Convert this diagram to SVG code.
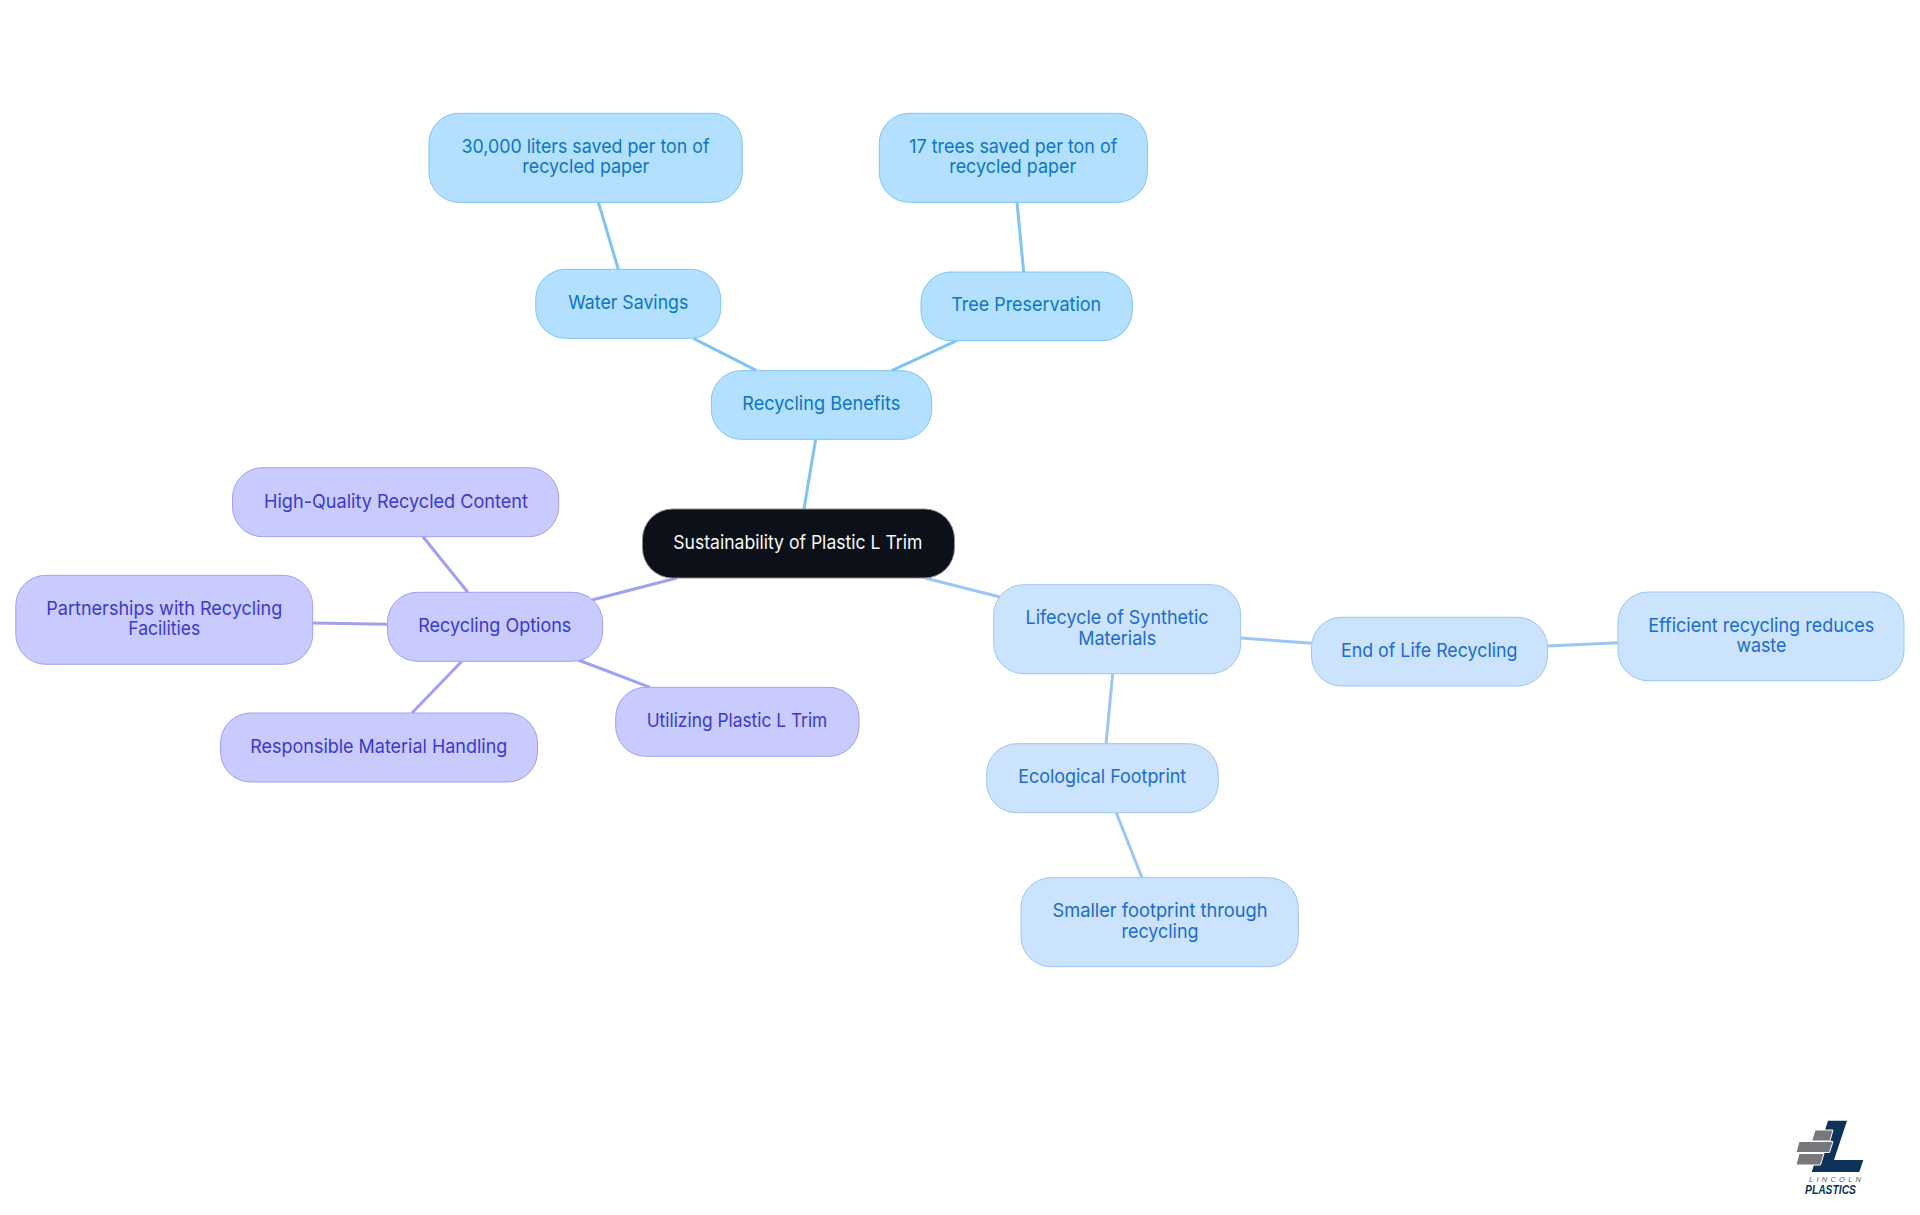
<svg xmlns="http://www.w3.org/2000/svg" width="1920" height="1215" viewBox="0 0 1920 1215">
<style>
text{font-family:"Inter","Noto Sans","Liberation Sans",sans-serif;font-size:19px;font-weight:400;text-anchor:middle}
rect{stroke-width:1}
.c line{stroke-width:3;fill:none}
.root rect{fill:#0b1019;stroke:#8a8d91}.root text{fill:#f7f8f8}
.a rect{fill:#b3e0ff;stroke:#7fc4f5}.a text{fill:#0b76c5}
.b rect{fill:#cce3fd;stroke:#9cc6f5}.b text{fill:#1b6bd0}
.p rect{fill:#c9cafd;stroke:#9ea1f3}.p text{fill:#3a3acb}
.la{stroke:#7fc4f5}.lb{stroke:#9cc6f5}.lp{stroke:#9ea1f3}
</style>
<rect width="1920" height="1215" fill="#fff" style="stroke:none"/>
<g id="connectors" class="c">
<line class="la" x1="804" y1="509" x2="815.7" y2="439"/>
<line class="la" x1="756.7" y1="370.7" x2="693.3" y2="338.3"/>
<line class="la" x1="891.7" y1="370.7" x2="956.7" y2="340.7"/>
<line class="la" x1="598.3" y1="202" x2="618.3" y2="269.3"/>
<line class="la" x1="1017" y1="202" x2="1023.7" y2="272"/>
<line class="lb" x1="925" y1="578" x2="1000" y2="597"/>
<line class="lb" x1="1240.7" y1="638" x2="1311.7" y2="643.3"/>
<line class="lb" x1="1547.5" y1="646" x2="1618" y2="642.7"/>
<line class="lb" x1="1112.7" y1="673.7" x2="1106" y2="743.7"/>
<line class="lb" x1="1116.3" y1="812.7" x2="1142" y2="877.7"/>
<line class="lp" x1="676.7" y1="578" x2="592" y2="600"/>
<line class="lp" x1="467.8" y1="592.3" x2="423" y2="536.7"/>
<line class="lp" x1="387.5" y1="624.3" x2="312.7" y2="623"/>
<line class="lp" x1="461.8" y1="661.3" x2="412" y2="713"/>
<line class="lp" x1="578.3" y1="660" x2="650" y2="687.3"/>
</g>
<g id="root" class="root"><rect x="642.5" y="509" width="312" height="69" rx="30"/><text x="797.8" y="549" textLength="249" lengthAdjust="spacingAndGlyphs">Sustainability of Plastic L Trim</text></g>
<g id="recycling-benefits" class="a"><rect x="711.3" y="370.7" width="220.4" height="68.6" rx="30"/><text x="821.3" y="410" textLength="158" lengthAdjust="spacingAndGlyphs">Recycling Benefits</text></g>
<g id="water-savings" class="a"><rect x="535.7" y="269.3" width="185" height="69" rx="30"/><text x="628.3" y="309" textLength="120" lengthAdjust="spacingAndGlyphs">Water Savings</text></g>
<g id="tree-preservation" class="a"><rect x="921" y="272" width="211.3" height="68.7" rx="30"/><text x="1026.2" y="310.7" textLength="150" lengthAdjust="spacingAndGlyphs">Tree Preservation</text></g>
<g id="liters-saved" class="a"><rect x="429" y="113.3" width="313.3" height="89" rx="30"/><text x="585.5" y="152.7" textLength="248" lengthAdjust="spacingAndGlyphs">30,000 liters saved per ton of</text><text x="585.8" y="172.7" textLength="127" lengthAdjust="spacingAndGlyphs">recycled paper</text></g>
<g id="trees-saved" class="a"><rect x="879.3" y="113.3" width="268" height="89" rx="30"/><text x="1013.3" y="152.7" textLength="208" lengthAdjust="spacingAndGlyphs">17 trees saved per ton of</text><text x="1012.7" y="172.7" textLength="127" lengthAdjust="spacingAndGlyphs">recycled paper</text></g>
<g id="lifecycle" class="b"><rect x="993.7" y="584.7" width="247" height="89" rx="30"/><text x="1117" y="624" textLength="183" lengthAdjust="spacingAndGlyphs">Lifecycle of Synthetic</text><text x="1117.2" y="644.5" textLength="78" lengthAdjust="spacingAndGlyphs">Materials</text></g>
<g id="end-of-life" class="b"><rect x="1311.5" y="617.3" width="236" height="68.7" rx="30"/><text x="1429.2" y="657" textLength="176.5" lengthAdjust="spacingAndGlyphs">End of Life Recycling</text></g>
<g id="efficient" class="b"><rect x="1618" y="592" width="286" height="88.7" rx="30"/><text x="1761.2" y="632" textLength="226" lengthAdjust="spacingAndGlyphs">Efficient recycling reduces</text><text x="1761.4" y="652" textLength="50" lengthAdjust="spacingAndGlyphs">waste</text></g>
<g id="ecological" class="b"><rect x="986.7" y="743.7" width="231.6" height="69" rx="30"/><text x="1102.2" y="783.3" textLength="168" lengthAdjust="spacingAndGlyphs">Ecological Footprint</text></g>
<g id="smaller" class="b"><rect x="1021" y="877.7" width="277.3" height="89" rx="30"/><text x="1160" y="916.7" textLength="215" lengthAdjust="spacingAndGlyphs">Smaller footprint through</text><text x="1160" y="937.5" textLength="77" lengthAdjust="spacingAndGlyphs">recycling</text></g>
<g id="recycling-options" class="p"><rect x="387.5" y="592.3" width="215.1" height="69" rx="30"/><text x="494.8" y="632.3" textLength="153" lengthAdjust="spacingAndGlyphs">Recycling Options</text></g>
<g id="high-quality" class="p"><rect x="232.5" y="467.7" width="326.2" height="69" rx="30"/><text x="396" y="508.3" textLength="264" lengthAdjust="spacingAndGlyphs">High-Quality Recycled Content</text></g>
<g id="partnerships" class="p"><rect x="15.8" y="575.3" width="296.9" height="89" rx="30"/><text x="164.3" y="615.3" textLength="236" lengthAdjust="spacingAndGlyphs">Partnerships with Recycling</text><text x="164.3" y="635.3" textLength="72" lengthAdjust="spacingAndGlyphs">Facilities</text></g>
<g id="responsible" class="p"><rect x="220.6" y="713" width="316.9" height="69" rx="30"/><text x="378.8" y="753.3" textLength="257" lengthAdjust="spacingAndGlyphs">Responsible Material Handling</text></g>
<g id="utilizing" class="p"><rect x="615.7" y="687.3" width="243.3" height="69" rx="30"/><text x="737" y="727.3" textLength="180.6" lengthAdjust="spacingAndGlyphs">Utilizing Plastic L Trim</text></g>
<g id="logo">
<polygon points="1828,1120.7 1847,1120.7 1834,1160 1863.3,1160 1859.3,1172 1811.7,1172" fill="#0f3358"/>
<g fill="#77787b" stroke="#fff" stroke-width="1">
<polygon points="1815,1130 1833,1130 1830,1141 1811.7,1141"/>
<polygon points="1799,1141.5 1833,1141.5 1829.5,1152.5 1796,1152.5"/>
<polygon points="1799,1153.5 1824,1153.5 1820.5,1165 1796,1165"/>
</g>
<text x="1835" y="1181.5" textLength="52" style="font-family:'Liberation Sans',sans-serif;font-size:7.5px;font-style:italic;fill:#5f6062">LINCOLN</text>
<text x="1830.5" y="1194" textLength="51" lengthAdjust="spacingAndGlyphs" style="font-family:'Liberation Sans',sans-serif;font-size:13px;font-weight:bold;font-style:italic;fill:#0f3358">PLASTICS</text>
</g>
</svg>
